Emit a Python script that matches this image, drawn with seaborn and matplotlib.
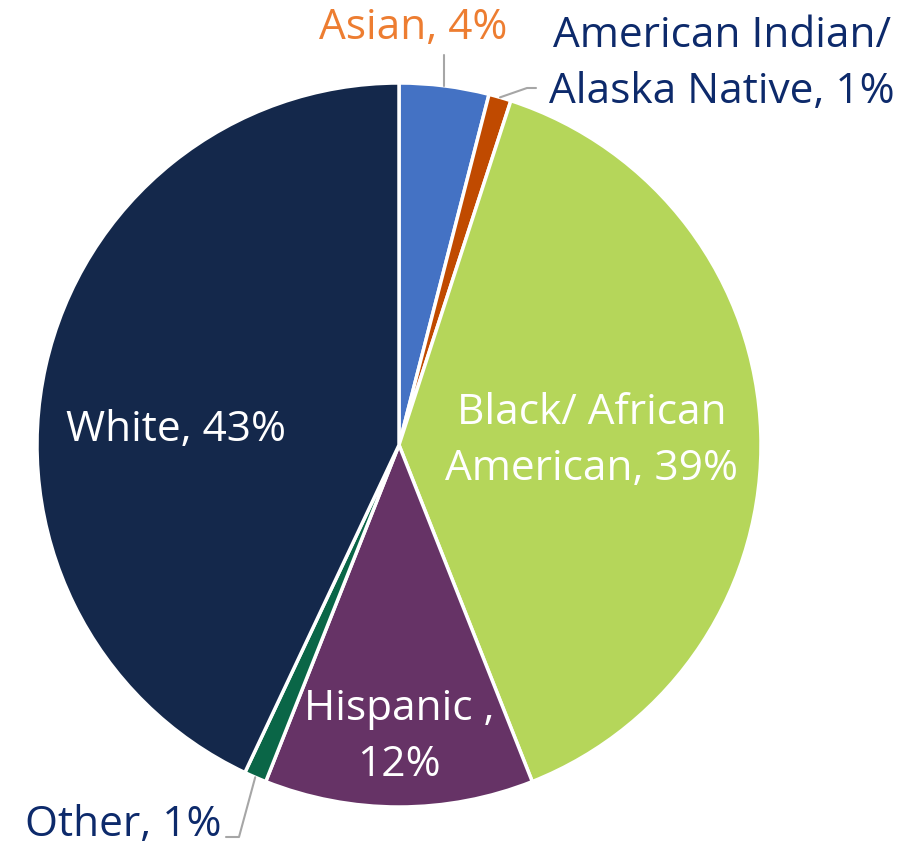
import numpy as np
import matplotlib
import matplotlib.pyplot as plt
import seaborn as sns

matplotlib.use('Agg')

# Race / ethnicity share (%), clockwise from 12 o'clock
categories = ["Asian", "American Indian/\nAlaska Native", "Black/ African\nAmerican",
              "Hispanic ,\n", "Other", "White"]
values = [4, 1, 39, 12, 1, 43]
colors = ["#4472C4", "#C04A00", "#B5D65A", "#663366", "#0A6647", "#14284B"]

sns.set_theme(style="white")
plt.rcParams['font.family'] = ['Open Sans', 'DejaVu Sans']

W, H = 920, 846
fig = plt.figure(figsize=(W / 100, H / 100), dpi=100)
ax = fig.add_axes([0, 0, 1, 1])

cx, cy, r = 399, H - 445, 362
wedges, _ = ax.pie(values, colors=colors, startangle=90, counterclock=False,
                   center=(cx, cy), radius=r, frame=True,
                   wedgeprops=dict(edgecolor="white", linewidth=2.5))
ax.set_xlim(0, W)
ax.set_ylim(0, H)
ax.set_aspect('equal')
ax.axis('off')

navy = "#0D2A6B"
fs = 30.5
ls = 1.42


def edge_point(w):
    mid = np.deg2rad((w.theta1 + w.theta2) / 2)
    return cx + r * np.cos(mid), cy + r * np.sin(mid)


labels = [f"{c}{'' if c.endswith(chr(10)) else ', '}{v}%" for c, v in zip(categories, values)]
labels[1] = labels[1]  # "American Indian/\nAlaska Native, 1%"

# inside labels
ax.text(592, H - 441, labels[2], ha="center", va="center", fontsize=fs, color="white", linespacing=ls)
ax.text(399, H - 737, labels[3], ha="center", va="center", fontsize=fs, color="white", linespacing=ls)
ax.text(176, H - 430, labels[5], ha="center", va="center", fontsize=fs, color="white")

# outside labels with leader lines
lc = "#A6A6A6"
x0, y0 = edge_point(wedges[0])
ax.plot([x0, x0], [y0, H - 55], color=lc, lw=1.5)
ax.text(413, H - 28, labels[0], ha="center", va="center", fontsize=fs, color="#ED7D31")

x1, y1 = edge_point(wedges[1])
ax.plot([x1, 527, 536], [y1, H - 88, H - 88], color=lc, lw=1.5)
ax.text(722, H - 64, labels[1], ha="center", va="center", fontsize=fs, color=navy, linespacing=ls)

x4, y4 = edge_point(wedges[4])
ax.plot([x4, 239, 226], [y4, H - 837, H - 837], color=lc, lw=1.5)
ax.text(123, H - 825, labels[4], ha="center", va="center", fontsize=fs, color=navy)

fig.savefig("out.png", dpi=100)
